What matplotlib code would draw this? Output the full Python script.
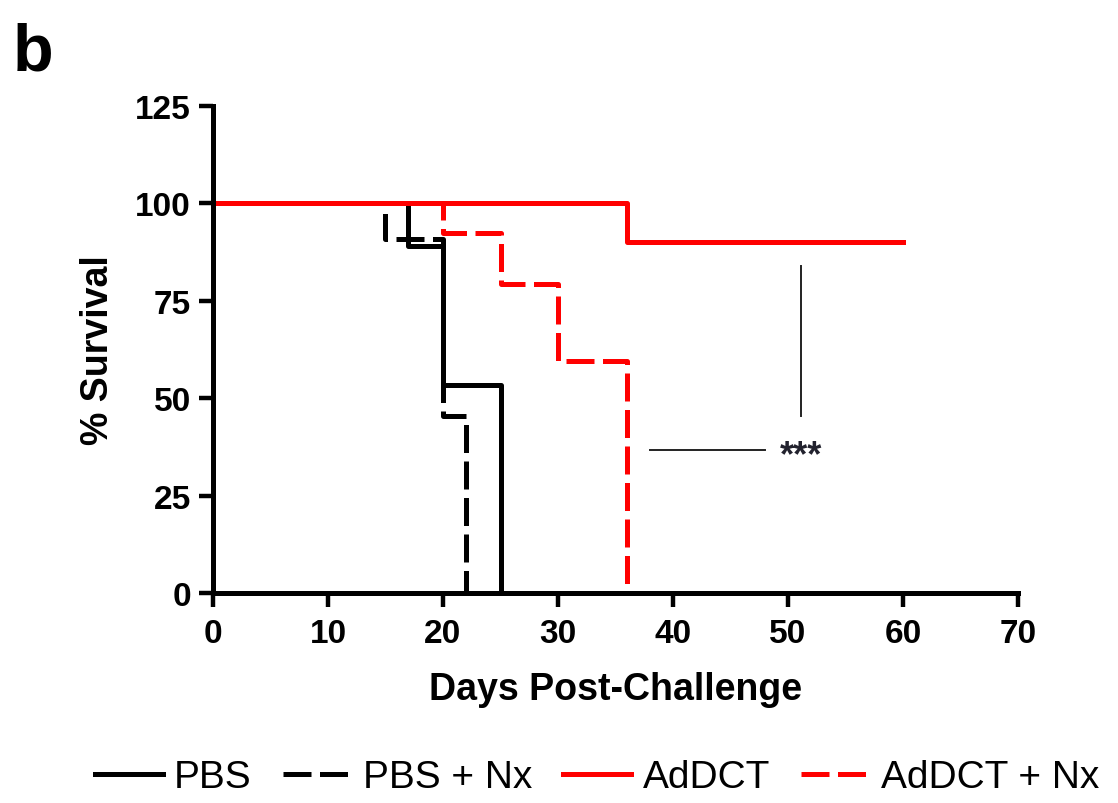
import matplotlib.pyplot as plt

# Kaplan-Meier survival data (step drops)
pbs_days = [0, 17, 20, 25]
pbs_surv = [100, 88.9, 53.3, 0]
pbsnx_days = [0, 15, 20, 22]
pbsnx_surv = [100, 90.9, 45.5, 0]
addct_days = [0, 36, 60]
addct_surv = [100, 90, 90]
addctnx_days = [0, 20, 25, 30, 36]
addctnx_surv = [100, 92.3, 79.2, 59.4, 0]

xticks = [0, 10, 20, 30, 40, 50, 60, 70]
yticks = [0, 25, 50, 75, 100, 125]

plt.rcParams['font.family'] = ['Liberation Sans', 'DejaVu Sans']

fig = plt.figure(figsize=(11.18, 8.04), dpi=100)
ax = fig.add_axes([0.1905, 0.2612, 0.7201, 0.6063])

lw = 3.6
dash = (5.6, 1.7)
ax.step(pbsnx_days, pbsnx_surv, where='post', color='black', lw=lw,
        dashes=dash, label='PBS + Nx')
ax.step(pbs_days, pbs_surv, where='post', color='black', lw=lw, label='PBS')
ax.step(addctnx_days, addctnx_surv, where='post', color='#ff0000', lw=lw,
        dashes=dash, label='AdDCT + Nx')
ax.step(addct_days, addct_surv, where='post', color='#ff0000', lw=lw, label='AdDCT')

# significance brackets
ax.plot([51.1, 51.1], [45.4, 83.8], color='#222222', lw=1.4)
ax.plot([38, 48], [36.7, 36.7], color='#222222', lw=1.4)
ax.text(49.3, 32.8, '***', fontsize=26, fontweight='bold', color='#22222e',
        va='baseline', ha='left')

ax.set_xlim(0, 70)
ax.set_ylim(0, 125)
ax.set_xticks(xticks)
ax.set_yticks(yticks)
for s in ['top', 'right']:
    ax.spines[s].set_visible(False)
for s in ['left', 'bottom']:
    ax.spines[s].set_linewidth(3.6)
ax.tick_params(width=3.2, length=10, direction='out', labelsize=24)
ax.tick_params(axis='x', pad=8)
ax.tick_params(axis='y', pad=6)
for lab in ax.get_xticklabels() + ax.get_yticklabels():
    lab.set_fontweight('bold')

ax.set_xlabel('Days Post-Challenge', fontsize=27, fontweight='bold', labelpad=16)
ax.set_ylabel('% Survival', fontsize=27, fontweight='bold', labelpad=14)

fig.text(0.011, 0.912, 'b', fontsize=48, fontweight='bold')

handles, labels = ax.get_legend_handles_labels()
order = [1, 0, 3, 2]
fig.legend([handles[i] for i in order], [labels[i] for i in order],
           loc='center', bbox_to_anchor=(0.534, 0.032), ncol=4, frameon=False,
           prop={'size': 28}, handlelength=1.75, columnspacing=0.8,
           handletextpad=0.3, borderpad=0.1)

fig.savefig('out.png', dpi=100)
